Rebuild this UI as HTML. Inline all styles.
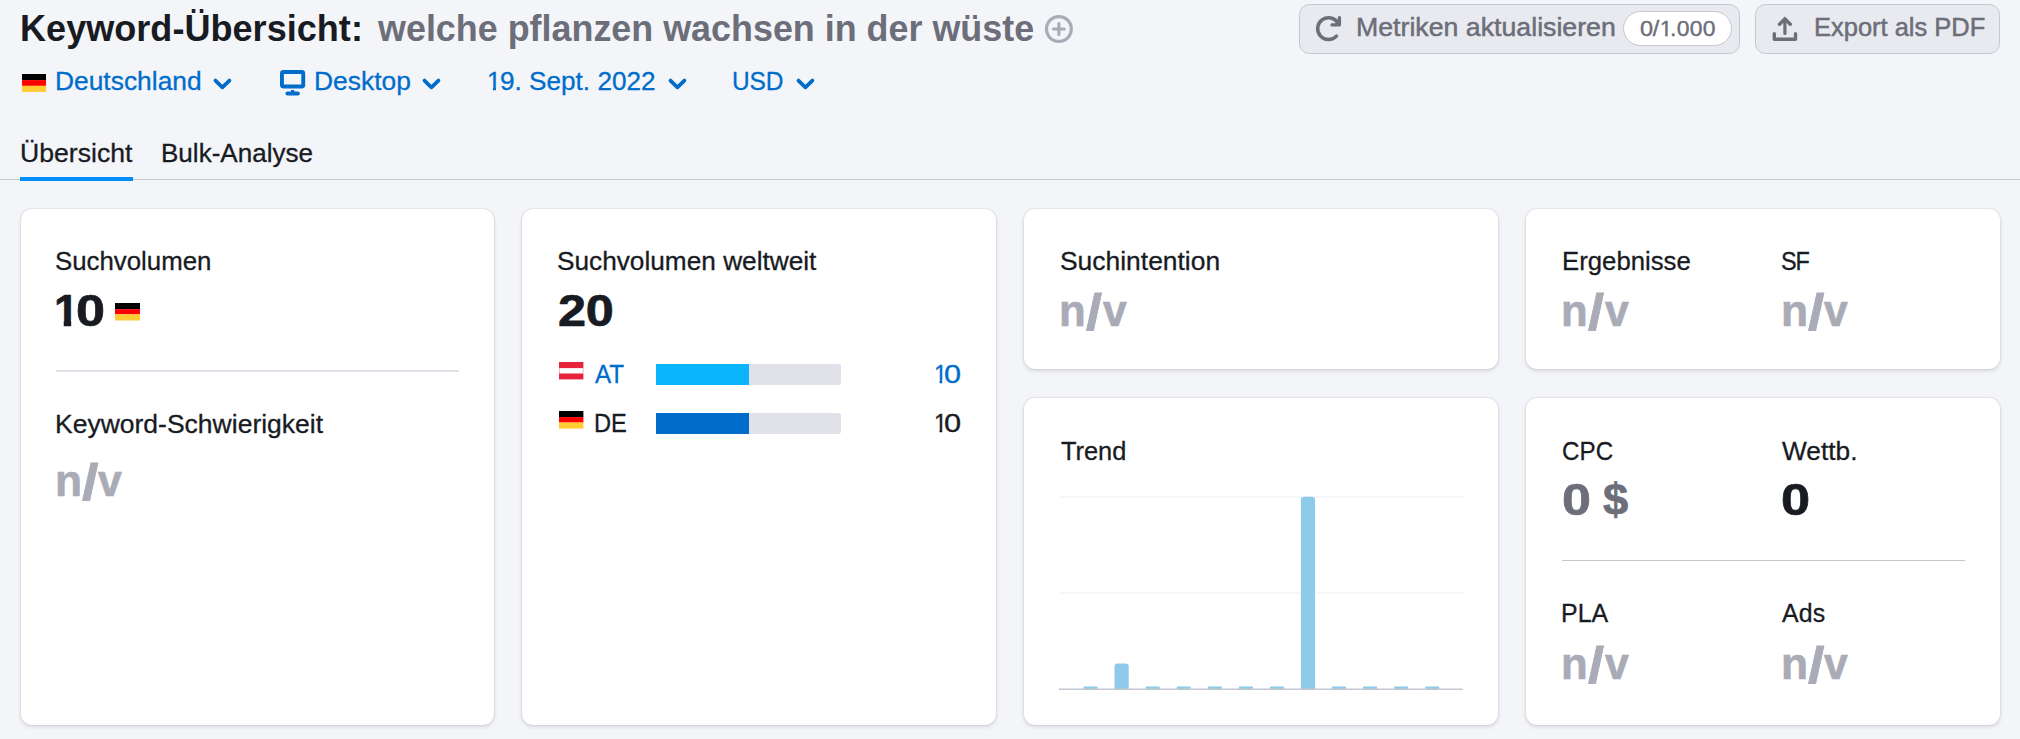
<!DOCTYPE html>
<html lang="de">
<head>
<meta charset="utf-8">
<title>Keyword-Übersicht</title>
<style>
*{box-sizing:border-box;margin:0;padding:0}
html,body{width:2020px;height:739px;overflow:hidden;background:#f4f5f9}
body{position:relative;font-family:"Liberation Sans",sans-serif;color:#191b23}
.t{position:absolute;white-space:nowrap;line-height:1;display:block;z-index:5}
.card{position:absolute;background:#fff;border-radius:11px;box-shadow:0 0 2px rgba(25,27,35,.18),0 2px 4px rgba(25,27,35,.12)}
.abs{position:absolute}
.btn{position:absolute;top:4px;height:50px;border:1px solid #c4c7cf;border-radius:10.5px;background:#e9eaf0}
svg{position:absolute;overflow:visible;z-index:4}
</style>
</head>
<body>

<!-- text -->
<span class="t" id="h1a" style="left:19.94px;top:10.00px;font-size:37.6px;color:#191b23;font-weight:bold;letter-spacing:0.004px;transform:scaleX(0.9602);transform-origin:0 31.83px;">Keyword-Übersicht:</span>
<span class="t" id="h1b" style="left:377.67px;top:10.00px;font-size:37.6px;color:#6c6e79;font-weight:bold;letter-spacing:-0.007px;transform:scaleX(0.9554);transform-origin:0 31.83px;">welche pflanzen wachsen in der wüste</span>
<span class="t" id="f1" style="left:54.62px;top:68.01px;font-size:26px;color:#006dca;-webkit-text-stroke:0.3px #006dca;letter-spacing:0.019px;transform:scaleX(1.0130);transform-origin:0 22.01px;">Deutschland</span>
<span class="t" id="f2" style="left:313.85px;top:68.01px;font-size:26px;color:#006dca;-webkit-text-stroke:0.3px #006dca;letter-spacing:0.039px;transform:scaleX(1.0132);transform-origin:0 22.01px;">Desktop</span>
<span class="t" id="f3a" style="left:487.32px;top:68.01px;font-size:26px;color:#006dca;-webkit-text-stroke:0.3px #006dca;transform:scaleX(0.9677);transform-origin:0 22.01px;clip-path:polygon(-0.1em -0.2em,0.7em -0.2em,0.7em 0.745em,0.354em 0.745em,0.354em 1.1em,0.236em 1.1em,0.236em 0.745em,-0.1em 0.745em);">1</span>
<span class="t" id="f3b" style="left:499.90px;top:68.01px;font-size:26px;color:#006dca;-webkit-text-stroke:0.3px #006dca;transform:scaleX(1.0058);transform-origin:0 22.01px;">9. Sept. 2022</span>
<span class="t" id="f4" style="left:732.11px;top:68.01px;font-size:26px;color:#006dca;-webkit-text-stroke:0.3px #006dca;letter-spacing:-0.077px;transform:scaleX(0.9406);transform-origin:0 22.01px;">USD</span>
<span class="t" id="tab1" style="left:19.52px;top:140.21px;font-size:26px;color:#191b23;-webkit-text-stroke:0.3px #191b23;letter-spacing:0.004px;transform:scaleX(1.0232);transform-origin:0 22.01px;">Übersicht</span>
<span class="t" id="tab2" style="left:161.15px;top:140.21px;font-size:26px;color:#191b23;-webkit-text-stroke:0.3px #191b23;letter-spacing:0.001px;transform:scaleX(1.0012);transform-origin:0 22.01px;">Bulk-Analyse</span>
<span class="t" id="b1" style="left:1356.13px;top:14.01px;font-size:26px;color:#6c6e79;-webkit-text-stroke:0.5px #6c6e79;letter-spacing:0.009px;transform:scaleX(1.0266);transform-origin:0 22.01px;">Metriken aktualisieren</span>
<span class="t" id="b1na" style="left:1639.93px;top:18.00px;font-size:21.6px;color:#6c6e79;-webkit-text-stroke:0.4px #6c6e79;letter-spacing:-0.240px;transform:scaleX(1.0878);transform-origin:0 18.28px;">0/</span>
<span class="t" id="b1nb" style="left:1659.99px;top:18.00px;font-size:21.6px;color:#6c6e79;-webkit-text-stroke:0.4px #6c6e79;transform:scaleX(1.0034);transform-origin:0 18.28px;clip-path:polygon(-0.1em -0.2em,0.7em -0.2em,0.7em 0.735em,0.354em 0.735em,0.354em 1.1em,0.236em 1.1em,0.236em 0.735em,-0.1em 0.735em);">1</span>
<span class="t" id="b1nc" style="left:1670.18px;top:18.00px;font-size:21.6px;color:#6c6e79;-webkit-text-stroke:0.4px #6c6e79;letter-spacing:0.323px;transform:scaleX(1.0600);transform-origin:0 18.28px;">.000</span>
<span class="t" id="b2" style="left:1813.83px;top:14.01px;font-size:26px;color:#6c6e79;-webkit-text-stroke:0.5px #6c6e79;letter-spacing:0.007px;transform:scaleX(0.9792);transform-origin:0 22.01px;">Export als PDF</span>
<span class="t" id="c1l" style="left:55.07px;top:248.01px;font-size:26px;color:#191b23;-webkit-text-stroke:0.3px #191b23;letter-spacing:-0.003px;transform:scaleX(0.9933);transform-origin:0 22.01px;">Suchvolumen</span>
<span class="t" id="c1l2" style="left:54.52px;top:411.01px;font-size:26px;color:#191b23;-webkit-text-stroke:0.3px #191b23;letter-spacing:0.009px;transform:scaleX(1.0187);transform-origin:0 22.01px;">Keyword-Schwierigkeit</span>
<span class="t" id="c2l" style="left:557.00px;top:248.01px;font-size:26px;color:#191b23;-webkit-text-stroke:0.3px #191b23;letter-spacing:-0.012px;transform:scaleX(1.0092);transform-origin:0 22.01px;">Suchvolumen weltweit</span>
<span class="t" id="c2v" style="left:557.58px;top:288.00px;font-size:45px;color:#191b23;font-weight:bold;-webkit-text-stroke:0.7px #191b23;letter-spacing:-0.328px;transform:scaleX(1.1215);transform-origin:0 38.09px;">20</span>
<span class="t" id="at" style="left:595.31px;top:360.51px;font-size:26px;color:#006dca;-webkit-text-stroke:0.3px #006dca;letter-spacing:-0.113px;transform:scaleX(0.9312);transform-origin:0 22.01px;">AT</span>
<span class="t" id="atn1" style="left:933.65px;top:360.51px;font-size:26px;color:#006dca;-webkit-text-stroke:0.3px #006dca;transform:scaleX(0.9000);transform-origin:0 22.01px;clip-path:polygon(-0.1em -0.2em,0.7em -0.2em,0.7em 0.745em,0.354em 0.745em,0.354em 1.1em,0.236em 1.1em,0.236em 0.745em,-0.1em 0.745em);">1</span>
<span class="t" id="atn0" style="left:944.34px;top:360.51px;font-size:26px;color:#006dca;-webkit-text-stroke:0.3px #006dca;transform:scaleX(1.1785);transform-origin:0 22.01px;">0</span>
<span class="t" id="de" style="left:594.16px;top:410.01px;font-size:26px;color:#191b23;-webkit-text-stroke:0.3px #191b23;letter-spacing:-0.178px;transform:scaleX(0.9083);transform-origin:0 22.01px;">DE</span>
<span class="t" id="den1" style="left:933.57px;top:410.01px;font-size:26px;color:#191b23;-webkit-text-stroke:0.3px #191b23;transform:scaleX(0.9000);transform-origin:0 22.01px;clip-path:polygon(-0.1em -0.2em,0.7em -0.2em,0.7em 0.745em,0.354em 0.745em,0.354em 1.1em,0.236em 1.1em,0.236em 0.745em,-0.1em 0.745em);">1</span>
<span class="t" id="den0" style="left:944.25px;top:410.01px;font-size:26px;color:#191b23;-webkit-text-stroke:0.3px #191b23;transform:scaleX(1.1834);transform-origin:0 22.01px;">0</span>
<span class="t" id="c3l" style="left:1060.19px;top:248.01px;font-size:26px;color:#191b23;-webkit-text-stroke:0.3px #191b23;transform:scaleX(1.0163);transform-origin:0 22.01px;">Suchintention</span>
<span class="t" id="c4l" style="left:1061.21px;top:437.51px;font-size:26px;color:#191b23;-webkit-text-stroke:0.3px #191b23;letter-spacing:-0.026px;transform:scaleX(0.9763);transform-origin:0 22.01px;">Trend</span>
<span class="t" id="c5l" style="left:1561.53px;top:248.01px;font-size:26px;color:#191b23;-webkit-text-stroke:0.3px #191b23;letter-spacing:0.007px;transform:scaleX(0.9896);transform-origin:0 22.01px;">Ergebnisse</span>
<span class="t" id="c5l2" style="left:1781.25px;top:248.01px;font-size:26px;color:#191b23;-webkit-text-stroke:0.3px #191b23;letter-spacing:-1.146px;transform:scaleX(0.9000);transform-origin:0 22.01px;">SF</span>
<span class="t" id="c6l" style="left:1561.93px;top:437.51px;font-size:26px;color:#191b23;-webkit-text-stroke:0.3px #191b23;letter-spacing:0.054px;transform:scaleX(0.9291);transform-origin:0 22.01px;">CPC</span>
<span class="t" id="c6l2" style="left:1782.19px;top:437.51px;font-size:26px;color:#191b23;-webkit-text-stroke:0.3px #191b23;letter-spacing:0.015px;transform:scaleX(1.0095);transform-origin:0 22.01px;">Wettb.</span>
<span class="t" id="c6va" style="left:1562.37px;top:476.81px;font-size:45px;color:#6c6e79;font-weight:bold;-webkit-text-stroke:0.7px #6c6e79;transform:scaleX(1.1571);transform-origin:0 38.09px;">0</span>
<span class="t" id="c6vb" style="left:1602.56px;top:476.81px;font-size:45px;color:#6c6e79;font-weight:bold;-webkit-text-stroke:0.7px #6c6e79;transform:scaleX(1.0066);transform-origin:0 38.09px;">$</span>
<span class="t" id="c6v2" style="left:1781.28px;top:476.81px;font-size:45px;color:#191b23;font-weight:bold;-webkit-text-stroke:0.7px #191b23;transform:scaleX(1.1618);transform-origin:0 38.09px;">0</span>
<span class="t" id="c6l3" style="left:1561.03px;top:600.26px;font-size:26px;color:#191b23;-webkit-text-stroke:0.3px #191b23;letter-spacing:-0.015px;transform:scaleX(0.9595);transform-origin:0 22.01px;">PLA</span>
<span class="t" id="c6l4" style="left:1782.23px;top:600.26px;font-size:26px;color:#191b23;-webkit-text-stroke:0.3px #191b23;letter-spacing:0.098px;transform:scaleX(0.9571);transform-origin:0 22.01px;">Ads</span>
<span class="t" id="c1v2a" style="left:54.81px;top:457.61px;font-size:45px;color:#a9abb6;font-weight:bold;-webkit-text-stroke:0.7px #a9abb6;transform:scaleX(0.9836);transform-origin:0 38.09px;">n</span>
<span class="t" id="c1v2b" style="left:81.92px;top:457.61px;font-size:45px;color:#a9abb6;font-weight:bold;-webkit-text-stroke:0.7px #a9abb6;transform:translateY(3.3px) scale(1.3172,1.12);transform-origin:0 38.09px;">/</span>
<span class="t" id="c1v2c" style="left:98.18px;top:457.61px;font-size:45px;color:#a9abb6;font-weight:bold;-webkit-text-stroke:0.7px #a9abb6;transform:scaleX(0.9486);transform-origin:0 38.09px;">v</span>
<span class="t" id="c3va" style="left:1059.27px;top:288.00px;font-size:45px;color:#a9abb6;font-weight:bold;-webkit-text-stroke:0.7px #a9abb6;transform:scaleX(0.9697);transform-origin:0 38.09px;">n</span>
<span class="t" id="c3vb" style="left:1085.96px;top:288.00px;font-size:45px;color:#a9abb6;font-weight:bold;-webkit-text-stroke:0.7px #a9abb6;transform:translateY(3.3px) scale(1.2878,1.12);transform-origin:0 38.09px;">/</span>
<span class="t" id="c3vc" style="left:1103.13px;top:288.00px;font-size:45px;color:#a9abb6;font-weight:bold;-webkit-text-stroke:0.7px #a9abb6;transform:scaleX(0.9484);transform-origin:0 38.09px;">v</span>
<span class="t" id="c5va" style="left:1561.27px;top:288.00px;font-size:45px;color:#a9abb6;font-weight:bold;-webkit-text-stroke:0.7px #a9abb6;transform:scaleX(0.9697);transform-origin:0 38.09px;">n</span>
<span class="t" id="c5vb" style="left:1587.96px;top:288.00px;font-size:45px;color:#a9abb6;font-weight:bold;-webkit-text-stroke:0.7px #a9abb6;transform:translateY(3.3px) scale(1.2878,1.12);transform-origin:0 38.09px;">/</span>
<span class="t" id="c5vc" style="left:1605.13px;top:288.00px;font-size:45px;color:#a9abb6;font-weight:bold;-webkit-text-stroke:0.7px #a9abb6;transform:scaleX(0.9484);transform-origin:0 38.09px;">v</span>
<span class="t" id="c5v2a" style="left:1780.81px;top:288.00px;font-size:45px;color:#a9abb6;font-weight:bold;-webkit-text-stroke:0.7px #a9abb6;transform:scaleX(0.9836);transform-origin:0 38.09px;">n</span>
<span class="t" id="c5v2b" style="left:1807.92px;top:288.00px;font-size:45px;color:#a9abb6;font-weight:bold;-webkit-text-stroke:0.7px #a9abb6;transform:translateY(3.3px) scale(1.3172,1.12);transform-origin:0 38.09px;">/</span>
<span class="t" id="c5v2c" style="left:1824.18px;top:288.00px;font-size:45px;color:#a9abb6;font-weight:bold;-webkit-text-stroke:0.7px #a9abb6;transform:scaleX(0.9486);transform-origin:0 38.09px;">v</span>
<span class="t" id="c6v3a" style="left:1561.27px;top:641.31px;font-size:45px;color:#a9abb6;font-weight:bold;-webkit-text-stroke:0.7px #a9abb6;transform:scaleX(0.9697);transform-origin:0 38.09px;">n</span>
<span class="t" id="c6v3b" style="left:1587.96px;top:641.31px;font-size:45px;color:#a9abb6;font-weight:bold;-webkit-text-stroke:0.7px #a9abb6;transform:translateY(3.3px) scale(1.2878,1.12);transform-origin:0 38.09px;">/</span>
<span class="t" id="c6v3c" style="left:1605.13px;top:641.31px;font-size:45px;color:#a9abb6;font-weight:bold;-webkit-text-stroke:0.7px #a9abb6;transform:scaleX(0.9484);transform-origin:0 38.09px;">v</span>
<span class="t" id="c6v4a" style="left:1780.81px;top:641.31px;font-size:45px;color:#a9abb6;font-weight:bold;-webkit-text-stroke:0.7px #a9abb6;transform:scaleX(0.9836);transform-origin:0 38.09px;">n</span>
<span class="t" id="c6v4b" style="left:1807.92px;top:641.31px;font-size:45px;color:#a9abb6;font-weight:bold;-webkit-text-stroke:0.7px #a9abb6;transform:translateY(3.3px) scale(1.3172,1.12);transform-origin:0 38.09px;">/</span>
<span class="t" id="c6v4c" style="left:1824.18px;top:641.31px;font-size:45px;color:#a9abb6;font-weight:bold;-webkit-text-stroke:0.7px #a9abb6;transform:scaleX(0.9486);transform-origin:0 38.09px;">v</span>
<span class="t" id="c1va" style="left:53.70px;top:288.00px;font-size:45px;color:#191b23;font-weight:bold;-webkit-text-stroke:0.7px #191b23;transform:scaleX(0.9926);transform-origin:0 38.09px;clip-path:polygon(-0.1em -0.2em,0.7em -0.2em,0.7em 0.712em,0.385em 0.712em,0.385em 1.1em,0.218em 1.1em,0.218em 0.712em,-0.1em 0.712em);">1</span>
<span class="t" id="c1vb" style="left:76.31px;top:288.00px;font-size:45px;color:#191b23;font-weight:bold;-webkit-text-stroke:0.7px #191b23;transform:scaleX(1.1595);transform-origin:0 38.09px;">0</span>
<!-- header icons -->
<svg style="left:1045px;top:14.750px" width="28" height="28" viewBox="0 0 28 28"><circle cx="13.900" cy="14" r="12.400" fill="none" stroke="#a9abb6" stroke-width="3.200"/><path d="M13.900 8.600v10.800M8.500 14h10.800" stroke="#a9abb6" stroke-width="3.100" stroke-linecap="round" fill="none"/></svg>

<!-- buttons -->
<div class="btn" style="left:1299px;width:441.100px"></div>
<div class="btn" style="left:1755px;width:244.600px"></div>
<div class="abs" style="left:1623.200px;top:10.800px;width:108.600px;height:35.200px;border-radius:17.600px;background:#fff;border:1px solid #c4c7cf;z-index:3"></div>
<svg style="left:1315px;top:15px" width="28" height="28" viewBox="0 0 28 28"><path d="M22.990 8.200A10.900 10.900 0 1 0 21.460 21.150" fill="none" stroke="#6c6e79" stroke-width="3.500" stroke-linecap="round"/><path d="M24.400 2.700V9.900H17" fill="none" stroke="#6c6e79" stroke-width="3.400" stroke-linejoin="round" stroke-linecap="round"/><path d="M24.400 4.500V9.900H19z" fill="#6c6e79"/></svg>
<svg style="left:1772px;top:15px" width="26" height="28" viewBox="0 0 26 28"><path d="M2.300 18.800V24.300H23.500V18.800" fill="none" stroke="#6c6e79" stroke-width="3.400" stroke-linecap="round" stroke-linejoin="round"/><path d="M7.500 9.300L12.900 3.900L18.300 9.300" fill="none" stroke="#6c6e79" stroke-width="3.400" stroke-linecap="round" stroke-linejoin="miter"/><path d="M12.900 5V18.500" fill="none" stroke="#6c6e79" stroke-width="3.200" stroke-linecap="round"/></svg>

<!-- filter row -->
<svg style="left:22.200px;top:74.400px" width="24" height="18" viewBox="0 0 24 18"><rect width="24" height="6.200" fill="#000"/><rect y="6.100" width="24" height="5.800" fill="#ff0000"/><rect y="11.800" width="24" height="6.100" fill="#ffcc33"/></svg>
<svg style="left:213px;top:78.400px" width="20" height="12" viewBox="0 0 20 12"><path d="M2.500 2.600L9.400 9.300L16.400 2.600" fill="none" stroke="#006dca" stroke-width="3.800" stroke-linecap="round" stroke-linejoin="round"/></svg>
<svg style="left:280px;top:69.700px" width="26" height="26" viewBox="0 0 26 26"><rect x="1.950" y="1.950" width="21.300" height="14.500" rx="1.500" fill="none" stroke="#006dca" stroke-width="3.900"/><rect x="11" y="20" width="3.300" height="2.500" fill="#006dca"/><path d="M7.400 23.550H17.900" stroke="#006dca" stroke-width="3.900" stroke-linecap="round" fill="none"/></svg>
<svg style="left:422.1px;top:78.400px" width="20" height="12" viewBox="0 0 20 12"><path d="M2.500 2.600L9.400 9.300L16.400 2.600" fill="none" stroke="#006dca" stroke-width="3.800" stroke-linecap="round" stroke-linejoin="round"/></svg>
<svg style="left:667.9px;top:78.400px" width="20" height="12" viewBox="0 0 20 12"><path d="M2.500 2.600L9.400 9.300L16.400 2.600" fill="none" stroke="#006dca" stroke-width="3.800" stroke-linecap="round" stroke-linejoin="round"/></svg>
<svg style="left:796.3px;top:78.400px" width="20" height="12" viewBox="0 0 20 12"><path d="M2.500 2.600L9.400 9.300L16.400 2.600" fill="none" stroke="#006dca" stroke-width="3.800" stroke-linecap="round" stroke-linejoin="round"/></svg>

<!-- tabs -->
<div class="abs" style="left:0;top:179px;width:2020px;height:1.300px;background:#c4c7cf"></div>
<div class="abs" style="left:20.300px;top:177px;width:112.800px;height:3.800px;background:#008ff8"></div>

<!-- cards -->
<div class="card" style="left:20.600px;top:208.500px;width:473.900px;height:516.900px"></div>
<div class="card" style="left:522px;top:208.500px;width:474.200px;height:516.900px"></div>
<div class="card" style="left:1023.700px;top:208.500px;width:474.200px;height:160.700px"></div>
<div class="card" style="left:1023.700px;top:398px;width:474.200px;height:327.400px"></div>
<div class="card" style="left:1526.400px;top:208.500px;width:474.100px;height:160.700px"></div>
<div class="card" style="left:1526.400px;top:398px;width:474.100px;height:327.400px"></div>

<!-- card 1 -->
<svg style="left:115px;top:302.500px" width="25" height="17.500" viewBox="0 0 25 17.500"><rect width="25" height="6.300" fill="#000"/><rect y="6.200" width="25" height="5.200" fill="#ff0000"/><rect y="11.300" width="25" height="6.200" fill="#ffcc33"/></svg>
<div class="abs" style="left:56px;top:370px;width:403px;height:1.500px;background:#e0e1e9"></div>

<!-- card 2 -->
<svg style="left:558.800px;top:362.200px" width="24.400" height="17.400" viewBox="0 0 24.400 17.400"><rect width="24.400" height="17.400" fill="#fff"/><rect width="24.400" height="6.100" fill="#e8243c"/><rect y="11.500" width="24.400" height="5.900" fill="#e8243c"/><rect y="6" width="0.600" height="5.600" fill="#e8243c" opacity="0.550"/><rect x="23.800" y="6" width="0.600" height="5.600" fill="#e8243c" opacity="0.550"/></svg>
<svg style="left:558.800px;top:411.200px" width="24.400" height="17.600" viewBox="0 0 24.400 17.600"><rect width="24.400" height="6.200" fill="#000"/><rect y="6.100" width="24.400" height="5.500" fill="#ff0000"/><rect y="11.500" width="24.400" height="6.100" fill="#ffcc33"/></svg>
<div class="abs" style="left:655.500px;top:363.750px;width:185.250px;height:21.500px;background:#e0e1e9;border-radius:3px"></div>
<div class="abs" style="left:655.500px;top:363.750px;width:93.500px;height:21.500px;background:#0bb5fb"></div>
<div class="abs" style="left:655.500px;top:412.500px;width:185.250px;height:21.500px;background:#e0e1e9;border-radius:3px"></div>
<div class="abs" style="left:655.500px;top:412.500px;width:93.500px;height:21.500px;background:#006dca"></div>

<!-- card 4: trend chart -->
<svg style="left:1059px;top:496px" width="404" height="195" viewBox="0 0 404 195">
<rect x="0" y="0.500" width="403.800" height="1" fill="#eef0f4"/>
<rect x="0" y="96.500" width="403.800" height="1" fill="#eef0f4"/>
<g fill="#8ecae9">
<rect x="24.46" y="190.400" width="14.200" height="2.600" rx="1"/>
<path d="M55.52 193v-22.500a3 3 0 0 1 3-3h8.200a3 3 0 0 1 3 3V193z"/>
<rect x="86.58" y="190.400" width="14.200" height="2.600" rx="1"/>
<rect x="117.64" y="190.400" width="14.200" height="2.600" rx="1"/>
<rect x="148.70" y="190.400" width="14.200" height="2.600" rx="1"/>
<rect x="179.76" y="190.400" width="14.200" height="2.600" rx="1"/>
<rect x="210.82" y="190.400" width="14.200" height="2.600" rx="1"/>
<path d="M241.88 193V3.800a3 3 0 0 1 3-3h8.200a3 3 0 0 1 3 3V193z"/>
<rect x="272.94" y="190.400" width="14.200" height="2.600" rx="1"/>
<rect x="304.00" y="190.400" width="14.200" height="2.600" rx="1"/>
<rect x="335.06" y="190.400" width="14.200" height="2.600" rx="1"/>
<rect x="366.12" y="190.400" width="14.200" height="2.600" rx="1"/>
</g>
<rect x="0" y="192.500" width="403.800" height="1.500" fill="#c4c7cf"/>
</svg>

<!-- card 6 divider -->
<div class="abs" style="left:1561.750px;top:559.500px;width:403px;height:1.500px;background:#c4c7cf"></div>

</body>
</html>
